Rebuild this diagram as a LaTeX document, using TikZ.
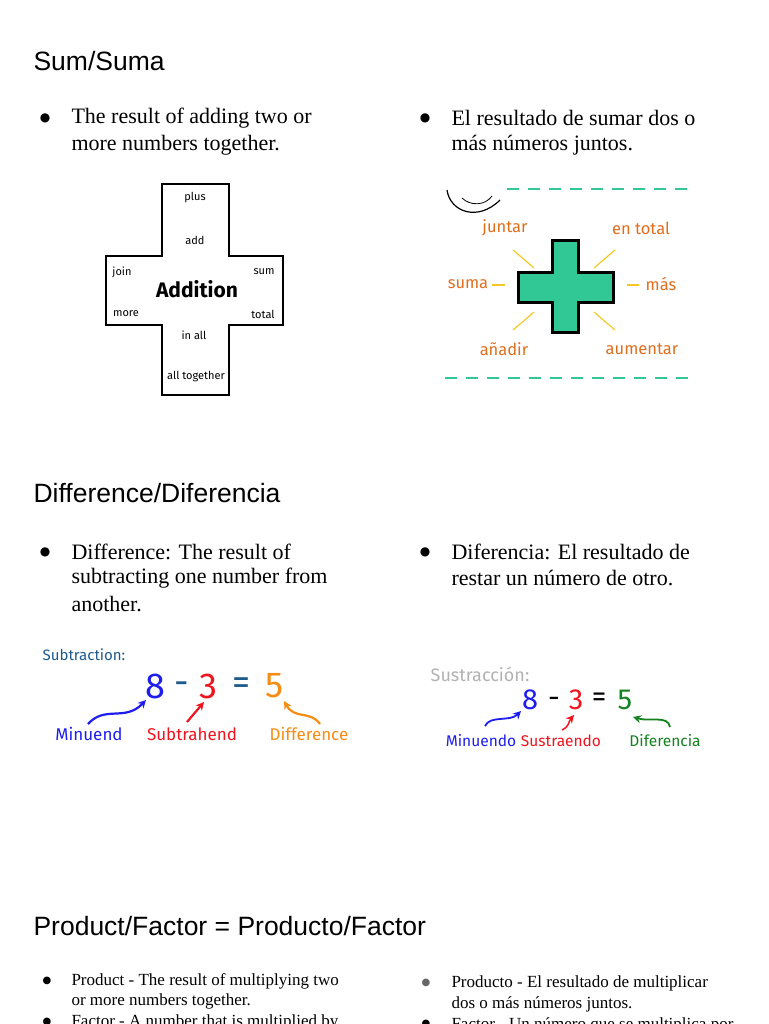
\documentclass[tikz,border=0pt]{standalone}
\usepackage{fontspec}
\setmainfont{Liberation Serif}
\newfontfamily\hsans{Liberation Sans}
\newfontfamily\csans{Fira Sans}
\newfontfamily\djv{DejaVu Sans}
\definecolor{teal1}{RGB}{50,200,150}
\definecolor{org}{RGB}{225,110,30}
\definecolor{ylw}{RGB}{245,200,40}
\definecolor{sblue}{RGB}{30,30,240}
\definecolor{sred}{RGB}{240,20,30}
\definecolor{sorg}{RGB}{245,140,20}
\definecolor{sgrn}{RGB}{20,130,30}
\definecolor{stl}{RGB}{30,90,140}
\usetikzlibrary{arrows.meta}
\begin{document}
\begin{tikzpicture}[x=1pt,y=-1pt,
  head/.style={anchor=west,font=\hsans\fontsize{26.5}{30}\selectfont},
  body/.style={anchor=west,font=\fontsize{22}{26}\selectfont},
  small/.style={anchor=west,font=\fontsize{17}{20}\selectfont},
  dot/.style={font=\djv\fontsize{12}{14}\selectfont},
  cw/.style={font=\csans\fontsize{11}{13}\selectfont},
  ow/.style={font=\csans\fontsize{16.5}{19}\selectfont,text=org},
  ray/.style={ylw,line width=1.2pt},
  num/.style={font=\csans\fontsize{36}{40}\selectfont},
  lab/.style={font=\csans\fontsize{17}{20}\selectfont},
  arr/.style={line width=2.2pt,-{Stealth[length=8pt,width=8pt]}}]
\useasboundingbox (0,0) rectangle (768,1024);
\clip (0,0) rectangle (768,1024);
\fill[white] (0,0) rectangle (768,1024);
% Sum
\node[head] (h1) at (30,61) {Sum/Suma};
\node[dot] (b1) at (45,118) {●};
\node[body] (t1) at (68,118) {The result of adding two or};
\node[body] (t2) at (68,145) {more numbers together.};
\node[dot] (b2) at (425,118) {●};
\node[body] (t3) at (448,118) {El resultado de sumar dos o};
\node[body] (t4) at (448,145) {más números juntos.};
% cross
\draw[line width=1.5pt] (162,184) -- (229,184) -- (229,256) -- (283,256) -- (283,325) -- (229,325) -- (229,395) -- (162,395) -- (162,325) -- (106,325) -- (106,256) -- (162,256) -- cycle;
\node[cw] (c1) at (195,198) {plus};
\node[cw] (c2) at (195,240) {add};
\node[cw] (c3) at (122,272) {join};
\node[cw] (c4) at (264,272) {sum};
\node[font=\csans\bfseries\fontsize{21}{24}\selectfont] (c5) at (197,289) {Addition};
\node[cw] (c6) at (126,314) {more};
\node[cw] (c7) at (263,314) {total};
\node[cw] (c8) at (194,335) {in all};
\node[cw] (c9) at (196,377) {all together};
% green plus
\draw[teal1,line width=2.5pt,dash pattern=on 12pt off 9pt] (507,189) -- (688,189);
\draw[teal1,line width=2.5pt,dash pattern=on 12pt off 9pt] (445,378) -- (688,378);
\draw[line width=1.2pt] (447,190) .. controls (450,212) and (478,222) .. (500,200);
\draw[line width=0.8pt] (462,198) .. controls (470,206) and (485,206) .. (492,196);
\draw[fill=teal1,line width=3pt] (552,240) -- (578,240) -- (578,272) -- (613,272) -- (613,302) -- (578,302) -- (578,332) -- (552,332) -- (552,302) -- (518,302) -- (518,272) -- (552,272) -- cycle;
\node[ow] (o1) at (505,228) {juntar};
\node[ow] (o2) at (641,228) {en total};
\node[ow] (o3) at (468,284) {suma};
\node[ow] (o4) at (661,284) {más};
\node[ow] (o5) at (504,349) {añadir};
\node[ow] (o6) at (642,349) {aumentar};
\draw[ray] (513,250) -- (534,268);
\draw[ray] (615,250) -- (594,268);
\draw[ray] (513,330) -- (534,312);
\draw[ray] (615,330) -- (594,312);
\draw[ray] (492,285) -- (505,285);
\draw[ray] (627,285) -- (639,285);
% Difference
\node[head] (h2) at (30,493) {Difference/Diferencia};
\node[dot] (b3) at (45,552) {●};
\node[body] (d1) at (68,552) {Difference: The result of};
\node[body] (d2) at (68,578) {subtracting one number from};
\node[body] (d3) at (68,604) {another.};
\node[dot] (b4) at (425,552) {●};
\node[body] (d4) at (448,552) {Diferencia: El resultado de};
\node[body] (d5) at (448,578) {restar un número de otro.};
% subtraction left
\node[font=\csans\fontsize{15}{17}\selectfont,text=stl] (s0) at (84,655) {Subtraction:};
\node[num,text=sblue] (n8) at (155,686) {8};
\node[num,text=stl] (nm) at (182,688) {-};
\node[num,text=sred] (n3) at (208,686) {3};
\node[num,text=stl] (ne) at (241,686) {=};
\node[num,text=sorg] (n5) at (275,686) {5};
\node[lab,text=sblue] (l1) at (89,734) {Minuend};
\node[lab,text=sred] (l2) at (192,734) {Subtrahend};
\node[lab,text=sorg] (l3) at (309,734) {Difference};
\draw[arr,sblue] (88,724) .. controls (105,705) and (125,722) .. (146,700);
\draw[arr,sred] (187,722) -- (204,702);
\draw[arr,sorg] (320,724) .. controls (310,710) and (295,720) .. (284,701);
% subtraction right
\node[font=\csans\fontsize{18}{20}\selectfont,text=black!30] (r0) at (480,674) {Sustracción:};
\node[num,font=\csans\fontsize{29}{32}\selectfont,text=sblue] (m8) at (530,700) {8};
\node[num,font=\csans\fontsize{29}{32}\selectfont] (mm) at (554,702) {-};
\node[num,font=\csans\fontsize{29}{32}\selectfont,text=sred] (m3) at (576,700) {3};
\node[num,font=\csans\fontsize{29}{32}\selectfont] (me) at (599,700) {=};
\node[num,font=\csans\fontsize{29}{32}\selectfont,text=sgrn] (m5) at (625,700) {5};
\node[lab,font=\csans\fontsize{15.5}{18}\selectfont,text=sblue] (k1) at (481,741) {Minuendo};
\node[lab,font=\csans\fontsize{15.5}{18}\selectfont,text=sred] (k2) at (561,741) {Sustraendo};
\node[lab,font=\csans\fontsize{15.5}{18}\selectfont,text=sgrn] (k3) at (665,741) {Diferencia};
\draw[arr,sblue,line width=1.8pt] (485,726) .. controls (490,715) and (510,722) .. (521,711);
\draw[arr,sred,line width=1.5pt] (562,730) .. controls (570,726) and (568,722) .. (574,715);
\draw[arr,sgrn,line width=1.8pt] (670,727) .. controls (668,715) and (650,722) .. (633,717);
% Product
\node[head] (h3) at (30,926) {Product/Factor = Producto/Factor};
\node[dot,font=\djv\fontsize{10}{12}\selectfont] (b5) at (47,981) {●};
\node[small] (p1) at (68,981) {Product - The result of multiplying two};
\node[small] (p2) at (68,1001) {or more numbers together.};
\node[dot,font=\djv\fontsize{10}{12}\selectfont] (b6) at (47,1022) {●};
\node[small] (p3) at (68,1022) {Factor - A number that is multiplied by};
\node[dot,font=\djv\fontsize{10}{12}\selectfont,text=black!60] (b7) at (426,983) {●};
\node[small] (p4) at (448,983) {Producto - El resultado de multiplicar};
\node[small] (p5) at (448,1004) {dos o más números juntos.};
\node[dot,font=\djv\fontsize{10}{12}\selectfont] (b8) at (426,1024) {●};
\node[small] (p6) at (448,1025) {Factor - Un número que se multiplica por};
\end{tikzpicture}
\end{document}
